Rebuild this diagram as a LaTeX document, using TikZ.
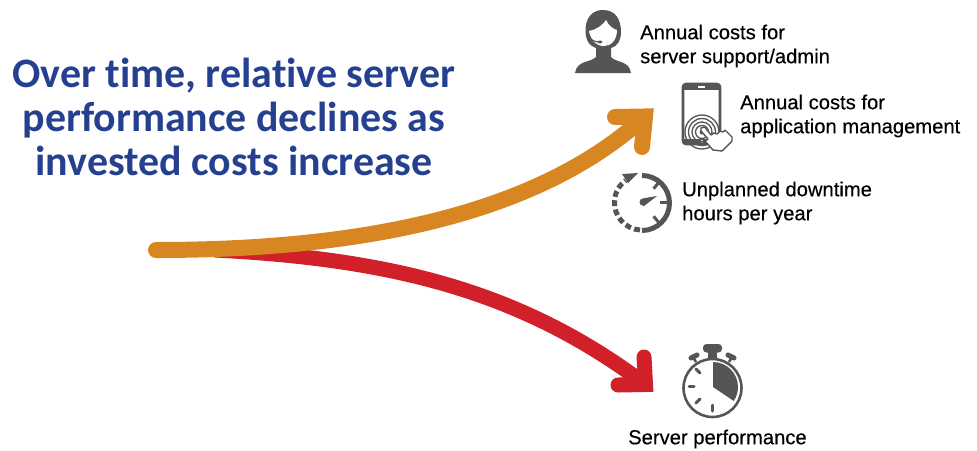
\documentclass[tikz,border=0pt]{standalone}
\usepackage{fontspec}
\setmainfont{Liberation Sans}
\newfontfamily\titlefont[RawFeature={-liga;-dlig;-clig}]{Carlito}
\newfontfamily\labelfont[RawFeature={embolden=0.35}]{Liberation Sans}
\usetikzlibrary{calc}
\definecolor{titleblue}{RGB}{36,64,143}
\definecolor{arroworange}{RGB}{216,134,33}
\definecolor{arrowred}{RGB}{210,32,42}
\definecolor{icongray}{RGB}{84,86,85}
\tikzset{
  px/.style={x=1pt,y=-1pt},
  titletext/.style={font=\titlefont\fontsize{41.9}{44}\selectfont\bfseries,text=titleblue,align=center,inner sep=0pt},
  label/.style={font=\labelfont\fontsize{20.2}{24}\selectfont,text=black,align=left,anchor=west,inner sep=0pt},
  shaft/.style={line width=16pt,line cap=round},
  head/.style={line width=16pt,line cap=round,line join=miter,miter limit=10},
  iconline/.style={draw=icongray,line width=2.6pt},
  ring/.style={draw=icongray,line width=1.3pt},
  tick/.style={draw=icongray,line width=3pt,line cap=round},
}
\begin{document}
\begin{tikzpicture}[px]
\useasboundingbox (0,0) rectangle (977,450);
\node[titletext] (title) at (234,117) {Over time, relative server\\performance declines as\\invested costs increase};

\coordinate (start) at (156,250);
\coordinate (rstart) at (215,250);
\coordinate (otip) at (645,116.5);
\coordinate (rtip) at (645.5,384.5);

% red arrow
\draw[shaft,arrowred,line cap=butt,line width=15pt] (rstart) .. controls (390,259) and (520,290) .. (rtip);
\draw[head,arrowred,line width=15pt] (618,385) -- (rtip) -- (644,357);
% orange arrow
\draw[shaft,arroworange] (start) .. controls (340,250) and (530,222) .. (otip);
\draw[head,arroworange] (615,117) -- (otip) -- (642,147);

% person icon
\fill[icongray] (603,10) .. controls (587,10) and (584,26) .. (586,36) .. controls (587,42) and (590,46) .. (596,48)
  -- (596,57) .. controls (590,63) and (577,60) .. (575,73) -- (631,73) .. controls (629,60) and (616,63) .. (611,57)
  -- (611,48) .. controls (618,46) and (621,40) .. (621,32) .. controls (621,20) and (616,10) .. (603,10) -- cycle;
\fill[white] (589,31) .. controls (596,30) and (603,25) .. (606,20) .. controls (609,26) and (613,29) .. (617,30)
  .. controls (617,40) and (611,46) .. (604,46) .. controls (596,46) and (590,40) .. (589,31) -- cycle;
\draw[icongray,line width=1.1pt] (589,34) .. controls (590,40) and (594,42) .. (600,42);
\fill[icongray] (600,42) ellipse (2.4 and 1.5);

% phone icon
\draw[iconline,fill=white,rounded corners=3pt] (683,84) rectangle (720,144);
\fill[icongray] (684,85) rectangle (719,90);
\fill[white] (698,86) rectangle (705,88);
\fill[icongray] (684,139) rectangle (719,143.5);
\fill[white] (702,141.5) circle (1.6);
\foreach \r in {17,13.5,10,6.5}{
  \draw[ring] (702,132) circle (\r);
}
\fill[icongray] (702,132) circle (2.5);
\draw[icongray,line width=1.4pt,fill=white,line join=round]
  (701,128) .. controls (703,126) and (706,127) .. (707,130) -- (711,135) -- (714,133) -- (717,134) -- (720,131) -- (723,132) -- (725,130) -- (732,137) -- (732,141) -- (722,151) -- (713,150) -- (705,141) -- (708,139) -- (701,131) -- cycle;

% gauge icon
\draw[icongray,line width=5pt] (642,175.5) arc[start angle=-90,delta angle=180,radius=27.5];
\draw[icongray,line width=5pt,dash pattern=on 6pt off 3.4pt] (640,230) arc[start angle=94,delta angle=140,radius=27.5];
\fill[icongray] (622,174) -- (638,173) -- (628,183) -- cycle;
\foreach \a in {-50,0,50}{
  \draw[icongray,line width=3pt] (642,202.5) ++(\a:18) -- ++(\a:9);
}
\fill[icongray] (657,196) -- (644,198.2) .. controls (638,198) and (638,206) .. (644,206) -- cycle;

% stopwatch icon
\fill[icongray] (713,387) -- (713,362) arc[start angle=-90,delta angle=124,radius=25] -- cycle;
\draw[icongray,line width=2.6pt] (712.5,388) circle (29);
\fill[icongray,rounded corners=3.5pt] (703,344) rectangle (722,352.5);
\fill[icongray] (708,350) rectangle (717,359);
\draw[icongray,line width=2.6pt] (696,362) -- (693,357);
\draw[icongray,line width=2.6pt] (729,362) -- (732,357);
\draw[icongray,line width=5pt,line cap=round] (691,358) -- (697,355);
\draw[icongray,line width=5pt,line cap=round] (728,355) -- (734,358);
\draw[tick] (696,369) -- (700,373);
\draw[tick] (689,386) -- (694,386);
\draw[tick] (696,403) -- (700,399);
\draw[tick] (712,405) -- (712,411);

% labels
\node[label] (l1) at (640,46) {Annual costs for\\server support/admin};
\node[label] (l2) at (740,116) {Annual costs for\\application management};
\node[label] (l3) at (682,203) {Unplanned downtime\\hours per year};
\node[label] (l4) at (628,439) {Server performance};
\end{tikzpicture}
\end{document}
